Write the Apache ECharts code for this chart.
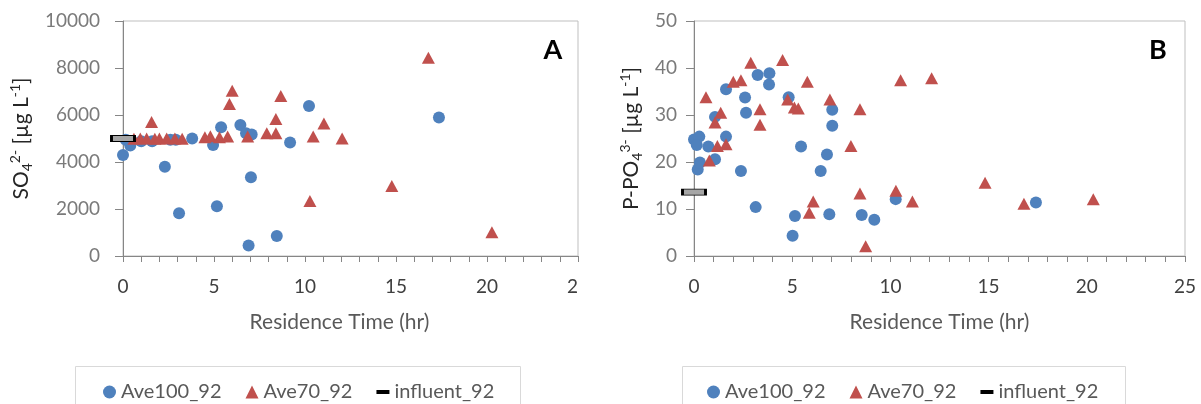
<!DOCTYPE html>
<html><head><meta charset="utf-8">
<script src="https://cdn.jsdelivr.net/npm/echarts@6/dist/echarts.min.js"></script>
<style>
body{margin:0;background:#fff;overflow:hidden;}
#a{position:absolute;left:0;top:0;width:579px;height:404px;}
#b{position:absolute;left:581px;top:0;width:620px;height:404px;}
</style>
</head><body><div id="a"></div><div id="b"></div>
<script>
// ---- Panel A: SO4 2- ----
const A_ave100 = [[0.0,4300],[0.15,4950],[0.4,4700],[1.0,4880],[1.6,4880],[2.3,3800],[2.6,4950],[2.9,4950],[3.08,1820],[3.8,5000],[4.95,4720],[5.16,2120],[5.39,5480],[6.45,5570],[6.76,5220],[7.07,5170],[7.03,3350],[6.9,450],[8.45,850],[9.18,4830],[10.22,6380],[17.36,5890]];
const A_ave70 = [[0.6,4990],[0.95,5000],[1.3,5000],[1.57,5700],[1.75,4990],[2.0,5000],[2.4,5000],[2.85,5000],[3.25,4990],[4.5,5050],[4.8,5100],[5.3,5050],[5.75,5080],[5.85,6470],[6.0,7030],[6.85,5080],[7.9,5220],[8.4,5220],[8.4,5830],[8.67,6810],[10.27,2340],[10.45,5080],[11.04,5640],[12.04,5000],[14.77,2980],[16.78,8440],[20.27,1010]];
const A_influent = [[0,5000]];
// ---- Panel B: P-PO4 3- ----
const B_ave100 = [[0.0,24.8],[0.27,25.4],[0.14,23.6],[0.19,18.4],[0.3,19.9],[0.73,23.3],[1.07,29.6],[1.07,20.6],[1.63,35.5],[1.63,25.4],[2.39,18.1],[2.6,33.7],[2.65,30.5],[3.14,10.4],[3.24,38.5],[3.84,38.9],[3.82,36.5],[4.82,33.8],[5.02,4.3],[5.14,8.5],[5.45,23.3],[6.45,18.1],[6.77,21.6],[6.89,8.9],[7.04,31.1],[7.04,27.7],[8.54,8.7],[9.18,7.7],[10.27,12.1],[17.41,11.4]];
const B_ave70 = [[0.61,33.8],[0.78,20.3],[1.07,28.4],[1.36,30.5],[1.19,23.4],[1.63,23.8],[2.0,37.1],[2.39,37.4],[2.89,41.1],[3.36,31.2],[3.36,27.9],[4.51,41.7],[4.77,33.3],[5.11,31.6],[5.31,31.4],[5.77,37.1],[5.87,9.2],[6.07,11.6],[6.92,33.3],[7.99,23.4],[8.45,31.2],[8.45,13.3],[8.74,2.1],[10.28,13.9],[10.52,37.4],[11.12,11.6],[12.1,37.8],[14.82,15.6],[16.8,11.1],[20.33,12.1]];
const B_influent = [[0,13.6]];

const seriesNames = ['Ave100_92','Ave70_92','influent_92'];
const xAxisTitle = 'Residence Time (hr)';
const A_yTitle = '{t|SO}{sub|4}{sup|2-}{t| [µg L}{sup|-1}{t|]}';
const B_yTitle = '{t|P-PO}{sub|4}{sup|3-}{t| [µg L}{sup|-1}{t|]}';
const A_yRange = {min:0, max:10000, interval:2000};
const B_yRange = {min:0, max:50, interval:10};
const xRange = {min:0, max:25, interval:5};

const FONT = 'Lato, "Open Sans", sans-serif';
const BLUE = '#4F81BD', RED = '#C0504D';

function build(o){
  return {
    animation:false,
    grid:{left:o.gridLeft, top:21, width:o.gridWidth, height:235, show:true, borderColor:'#bfbfbf', borderWidth:1, containLabel:false, outerBoundsMode:'none'},
    xAxis:{type:'value', min:xRange.min, max:xRange.max, interval:xRange.interval,
      name:xAxisTitle, nameLocation:'middle', nameGap:56,
      nameTextStyle:{fontFamily:FONT, fontSize:21, color:'#595959', padding:o.xNamePad},
      axisLine:{onZero:false, lineStyle:{color:'#868686'}},
      axisTick:{show:true, length:6, lineStyle:{color:'#868686'}},
      minorTick:{show:true, splitNumber:5, length:6, lineStyle:{color:'#868686'}},
      splitLine:{show:false},
      axisLabel:{fontFamily:FONT, fontSize:19, color:'#404040', margin:21, formatter:v=>String(v)}},
    yAxis:{type:'value', min:o.yRange.min, max:o.yRange.max, interval:o.yRange.interval,
      name:o.yTitle, nameLocation:'middle', nameGap:o.yNameGap, nameRotate:90,
      nameTextStyle:{fontFamily:FONT, color:'#262626', lineHeight:26,
        rich:{t:{fontFamily:FONT,fontSize:21,color:'#262626',lineHeight:26},
              sub:{fontFamily:FONT,fontSize:14,color:'#262626',verticalAlign:'bottom',lineHeight:26},
              sup:{fontFamily:FONT,fontSize:14,color:'#262626',verticalAlign:'top',lineHeight:26}}},
      axisLine:{show:true, lineStyle:{color:'#868686'}},
      axisTick:{show:true, length:8, lineStyle:{color:'#868686'}},
      splitLine:{show:false},
      axisLabel:{fontFamily:FONT, fontSize:19, color:'#7a7a7a', margin:o.yLabelMargin, formatter:v=>String(v)}},
    legend:{left:o.legendLeft, top:377, orient:'horizontal', itemGap:24, itemWidth:13, itemHeight:13,
      selectedMode:false, textStyle:{fontFamily:FONT, fontSize:20, color:'#595959'},
      data:[{name:seriesNames[0], icon:'circle'},
            {name:seriesNames[1], icon:'triangle'},
            {name:seriesNames[2], icon:'path://M0,0 M0,4.5 L13,4.5 L13,8.5 L0,8.5 Z M13,13', itemStyle:{color:'#000', borderWidth:0}}]},
    graphic:[
      {type:'rect', silent:true, shape:{x:o.boxX+0.5, y:366.5, width:o.boxW, height:60}, style:{fill:'none', stroke:'#d9d9d9', lineWidth:1}},
      {type:'text', silent:true, x:o.letterX, y:50, style:{text:o.letter, font:'bold 27px '+FONT, fill:'#000', align:'center', verticalAlign:'middle'}}
    ],
    series:[
      {name:seriesNames[0], type:'scatter', clip:false, symbol:'circle', symbolSize:12, itemStyle:{color:BLUE, opacity:1}, data:o.d100, z:2},
      {name:seriesNames[1], type:'scatter', clip:false, symbol:'triangle', symbolSize:[13,12], itemStyle:{color:RED, opacity:1}, data:o.d70, z:3},
      {name:seriesNames[2], type:'scatter', clip:false, symbol:'rect', symbolSize:[23,6], itemStyle:{color:'#a6a6a6', borderColor:'#000', borderWidth:1.5, opacity:1}, data:o.dInf, z:4}
    ]
  };
}

const chartA = echarts.init(document.getElementById('a'), null, {renderer:'canvas'});
chartA.setOption(build({gridLeft:123, gridWidth:455, yRange:A_yRange, yTitle:A_yTitle, yNameGap:82, yLabelMargin:23,
  xNamePad:[0,22,0,0], legendLeft:98, boxX:75, boxW:445, letter:'A', letterX:553,
  d100:A_ave100, d70:A_ave70, dInf:A_influent}));

const chartB = echarts.init(document.getElementById('b'), null, {renderer:'canvas'});
chartB.setOption(build({gridLeft:113, gridWidth:491, yRange:B_yRange, yTitle:B_yTitle, yNameGap:49, yLabelMargin:17,
  xNamePad:[0,0,0,0], legendLeft:121, boxX:101, boxW:443, letter:'B', letterX:577,
  d100:B_ave100, d70:B_ave70, dInf:B_influent}));
</script>
</body></html>
